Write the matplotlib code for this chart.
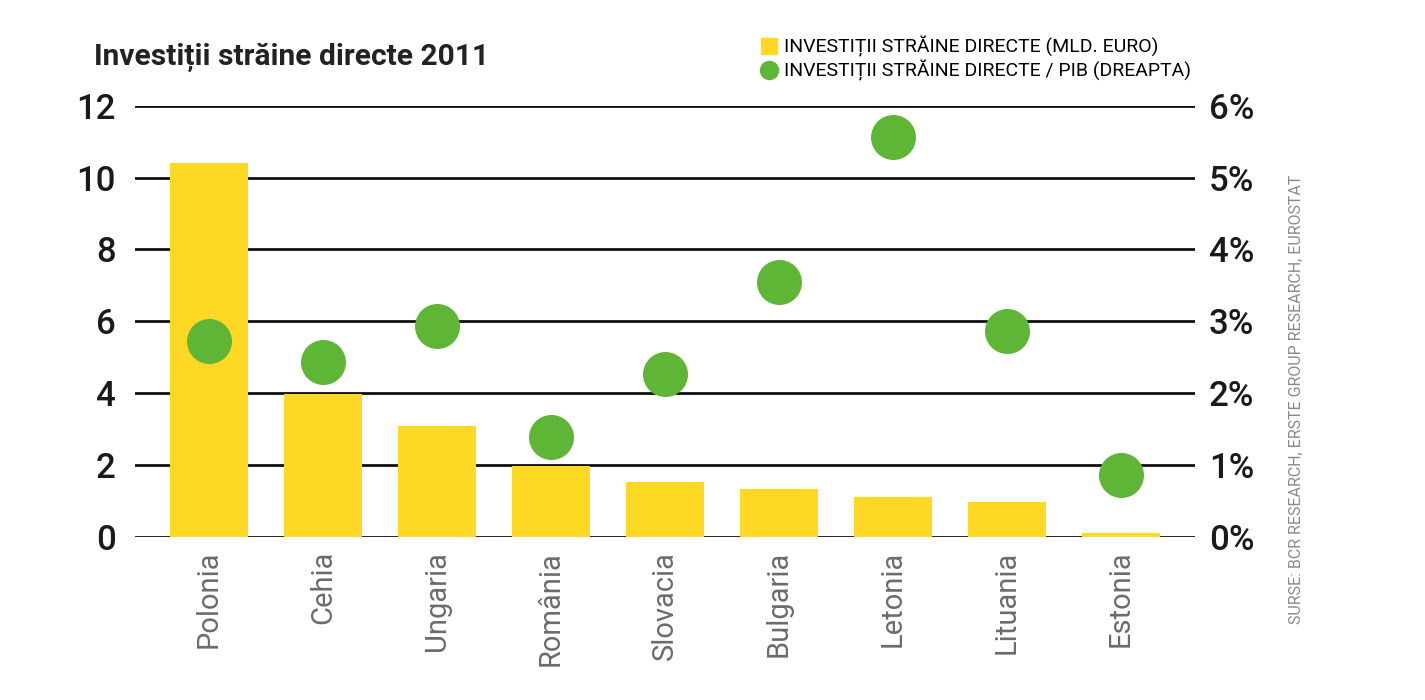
import matplotlib
matplotlib.use('Agg')
import matplotlib.pyplot as plt
from matplotlib.lines import Line2D

plt.rcParams['font.family'] = ['Roboto', 'DejaVu Sans']

# date
tari = ['Polonia', 'Cehia', 'Ungaria', 'România', 'Slovacia',
        'Bulgaria', 'Letonia', 'Lituania', 'Estonia']
isd_mld = [10.4, 3.98, 3.1, 1.98, 1.53, 1.34, 1.11, 0.97, 0.1]
isd_pib = [2.73, 2.44, 2.94, 1.39, 2.27, 3.54, 5.57, 2.87, 0.86]
stanga_ticks = [0, 2, 4, 6, 8, 10, 12]
dreapta_ticks = [0, 1, 2, 3, 4, 5, 6]

GALBEN = '#FFD823'
VERDE = '#5FB636'

fig = plt.figure(figsize=(14.25, 7), dpi=100)
ax = fig.add_axes([0.0947, 0.233, 0.744, 0.616])
x = list(range(len(tari)))

# gridlines
for t in stanga_ticks:
    ax.axhline(t, color='#111111', lw=2, zorder=1)
ax.bar(x, isd_mld, width=0.69, color=GALBEN, zorder=2)

ax2 = ax.twinx()
ax2.scatter(x, isd_pib, s=1050, color=VERDE, zorder=3, linewidths=0)

ax.set_xlim(-0.65, 8.65)
ax.set_ylim(0, 12)
ax2.set_ylim(0, 6)
ax.set_yticks(stanga_ticks)
ax.set_yticklabels([str(t) for t in stanga_ticks], fontsize=25,
                   color='#1a1a1a', fontweight='medium')
ax2.set_yticks(dreapta_ticks)
ax2.set_yticklabels([f'{t}%' for t in dreapta_ticks], fontsize=25,
                    color='#1a1a1a', fontweight='medium')
ax.tick_params(axis='y', length=0, pad=14)
ax2.tick_params(axis='y', length=0, pad=10)
ax.set_xticks(x)
ax.set_xticklabels(tari, rotation=90, fontsize=21, color='#6b6b6b', va='top')
ax.tick_params(axis='x', length=0, pad=10)
for a in (ax, ax2):
    for s in a.spines.values():
        s.set_visible(False)

fig.text(0.066, 0.918, 'Investiții străine directe 2011', fontsize=21.5,
         fontweight='bold', color='#222222', va='center')

handles = [
    Line2D([], [], marker='s', linestyle='none', color=GALBEN, markersize=12),
    Line2D([], [], marker='o', linestyle='none', color=VERDE, markersize=13),
]
fig.legend(handles, ['INVESTIȚII STRĂINE DIRECTE (MLD. EURO)',
                     'INVESTIȚII STRĂINE DIRECTE / PIB (DREAPTA)'],
           loc='upper left', bbox_to_anchor=(0.523, 0.968), frameon=False,
           fontsize=14, handletextpad=0.3, labelspacing=0.15, handlelength=1.0,
           borderpad=0.2)

fig.text(0.91, 0.43, 'SURSE: BCR RESEARCH, ERSTE GROUP RESEARCH, EUROSTAT',
         rotation=90, fontsize=11.5, color='#8a8a8a', ha='center', va='center')

fig.savefig('out.png', dpi=100)
